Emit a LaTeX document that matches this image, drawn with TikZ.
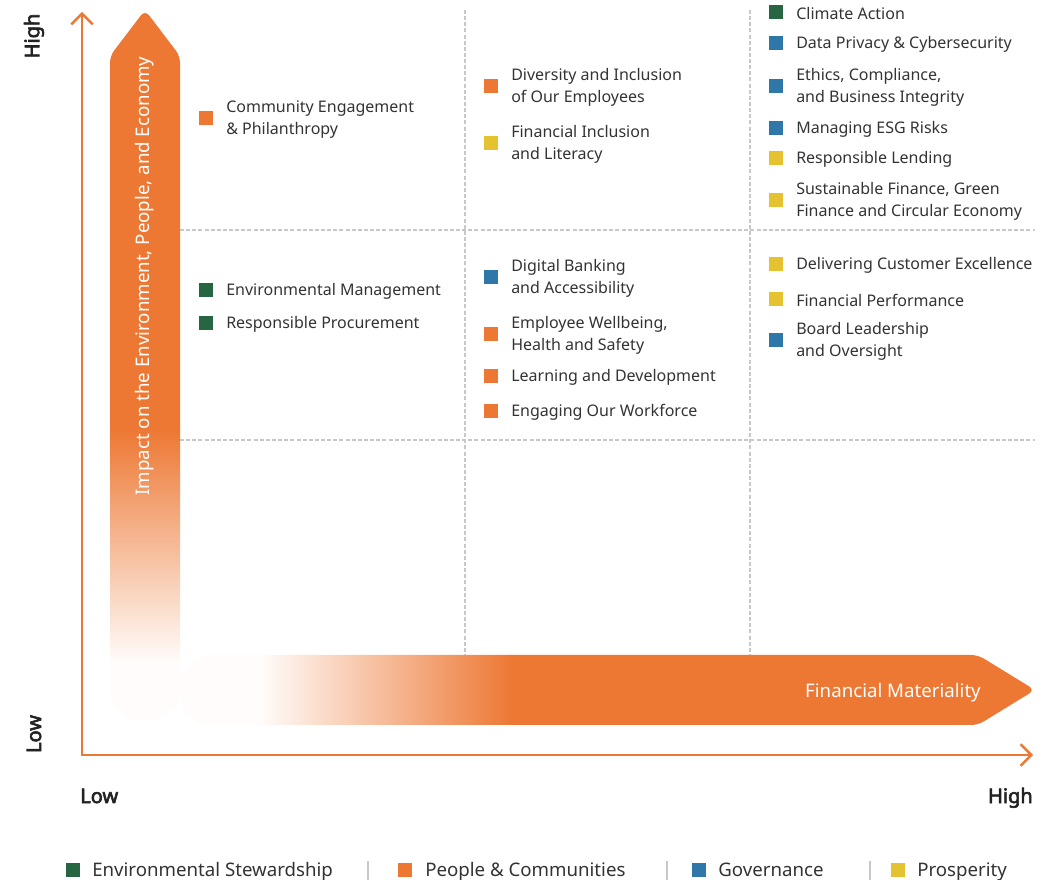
\documentclass[tikz,border=0pt]{standalone}
\usepackage{fontspec}
\setmainfont{Noto Sans}
\newfontfamily\labelfont{Noto Sans}[BoldFont={Noto Sans}, BoldFeatures={FakeBold=3}]
\usetikzlibrary{arrows.meta}

\definecolor{esgorange}{HTML}{ED7834}
\definecolor{esggreen}{HTML}{276642}
\definecolor{esgblue}{HTML}{2E77A8}
\definecolor{esgyellow}{HTML}{E5C22F}
\definecolor{bodytext}{HTML}{333333}
\definecolor{darktext}{HTML}{222222}
\definecolor{gridgray}{HTML}{C8C8C8}

% one coloured square followed by its label
\newcommand\esgitem[5]{%
  \node[sq, fill=#4] (#1-sq) at (#2,#3) {};
  \node[itemtext] (#1) at (#2+20,#3) {#5};
}

\begin{document}
\begin{tikzpicture}[x=0.75pt,y=-0.75pt,
  sq/.style={minimum size=10.5pt, inner sep=0pt, draw=none},
  itemtext/.style={anchor=west, inner sep=0pt, align=left, text=bodytext, yshift=-1pt,
    font=\fontsize{12}{16.5}\selectfont},
  legendtext/.style={anchor=base west, inner sep=0pt, text=bodytext,
    font=\fontsize{14}{16}\selectfont},
  levellabel/.style={inner sep=0pt, text=darktext,
    font=\labelfont\fontsize{15}{18}\selectfont\bfseries},
  gridline/.style={draw=gridgray, line width=0.8pt, dash pattern=on 3pt off 1.6pt},
  axisline/.style={draw=esgorange, line width=1.8pt,
    {Straight Barb[length=8pt,width=16pt]}-{Straight Barb[length=8pt,width=16pt]}},
  separator/.style={draw=gridgray, line width=0.8pt},
]
\useasboundingbox (0,0) rectangle (1058,880);
\clip (0,0) rectangle (1058,880);

% quadrant grid
\coordinate (gv1t) at (465,10);  \coordinate (gv1b) at (465,655);
\coordinate (gv2t) at (750,10);  \coordinate (gv2b) at (750,655);
\coordinate (gh1l) at (180,230); \coordinate (gh1r) at (1035,230);
\coordinate (gh2l) at (180,440); \coordinate (gh2r) at (1035,440);
\draw[gridline] (gv1t) -- (gv1b);
\draw[gridline] (gv2t) -- (gv2b);
\draw[gridline] (gh1l) -- (gh1r);
\draw[gridline] (gh2l) -- (gh2r);

% vertical band arrow (impact), fading towards the bottom
\begin{scope}
  \clip[rounded corners=5pt] (110,400) -- (110,56) -- (145,10) -- (180,56) -- (180,685)
    .. controls (180,704.3) and (164.3,720) .. (145,720)
    .. controls (125.7,720) and (110,704.3) .. (110,685) -- cycle;
  \fill[esgorange] (100,0) rectangle (190,431);
  \shade[top color=esgorange, bottom color=esgorange!2] (100,430) rectangle (190,662);
  \fill[esgorange!2] (100,661) rectangle (190,730);
\end{scope}

% horizontal band arrow (financial materiality), fading towards the left
\begin{scope}
  \clip[rounded corners=5pt] (600,655) -- (978,655) -- (1035,690) -- (978,725) -- (215,725)
    .. controls (195.7,725) and (180,709.3) .. (180,690)
    .. controls (180,670.7) and (195.7,655) .. (215,655) -- cycle;
  \fill[esgorange!2] (170,650) rectangle (261,730);
  \shade[left color=esgorange!2, right color=esgorange] (260,650) rectangle (512,730);
  \fill[esgorange] (511,650) rectangle (1040,730);
\end{scope}

\node[rotate=90, inner sep=0pt, text=white, font=\fontsize{14}{16}\selectfont]
  (impact) at (145,276) {Impact on the Environment, People, and Economy};
\node[inner sep=0pt, text=white, font=\fontsize{14}{16}\selectfont]
  (finmat) at (893,693) {Financial Materiality};

% axes
\coordinate (ytop) at (82,12);
\coordinate (origin) at (82,755);
\coordinate (xend) at (1033,755);
\draw[axisline] (ytop) -- (origin) -- (xend);

\node[levellabel, rotate=90] (yhigh) at (34,36) {High};
\node[levellabel, rotate=90] (ylow) at (34,734) {Low};
\node[levellabel, anchor=base west] (xlow) at (80,803) {Low};
\node[levellabel, anchor=base east] (xhigh) at (1033,803) {High};

% low financial materiality column
\esgitem{community}{206}{118}{esgorange}{Community Engagement\\\& Philanthropy}
\esgitem{envmgmt}{206}{290}{esggreen}{Environmental Management}
\esgitem{procure}{206}{323}{esggreen}{Responsible Procurement}

% middle column
\esgitem{diversity}{491}{86}{esgorange}{Diversity and Inclusion\\of Our Employees}
\esgitem{fininc}{491}{143}{esgyellow}{Financial Inclusion\\and Literacy}
\esgitem{digital}{491}{277}{esgblue}{Digital Banking\\and Accessibility}
\esgitem{wellbeing}{491}{334}{esgorange}{Employee Wellbeing,\\Health and Safety}
\esgitem{learning}{491}{376}{esgorange}{Learning and Development}
\esgitem{workforce}{491}{411}{esgorange}{Engaging Our Workforce}

% high financial materiality column
\esgitem{climate}{776}{12}{esggreen}{Climate Action}
\esgitem{privacy}{776}{43}{esgblue}{Data Privacy \& Cybersecurity}
\esgitem{ethics}{776}{86}{esgblue}{Ethics, Compliance,\\and Business Integrity}
\esgitem{esgrisk}{776}{128}{esgblue}{Managing ESG Risks}
\esgitem{lending}{776}{158}{esgyellow}{Responsible Lending}
\esgitem{susfin}{776}{200}{esgyellow}{Sustainable Finance, Green\\Finance and Circular Economy}
\esgitem{customer}{776}{264}{esgyellow}{Delivering Customer Excellence}
\esgitem{finperf}{776}{299}{esgyellow}{Financial Performance}
\esgitem{board}{776}{340}{esgblue}{Board Leadership\\and Oversight}

% legend
\node[sq, fill=esggreen] (lg-env-sq) at (73,870) {};
\node[legendtext] (lg-env) at (92,876) {Environmental Stewardship};
\draw[separator] (368,861) -- (368,880);
\node[sq, fill=esgorange] (lg-ppl-sq) at (405,870) {};
\node[legendtext] (lg-ppl) at (425,876) {People \& Communities};
\draw[separator] (667,861) -- (667,880);
\node[sq, fill=esgblue] (lg-gov-sq) at (699,870) {};
\node[legendtext] (lg-gov) at (718,876) {Governance};
\draw[separator] (870,861) -- (870,880);
\node[sq, fill=esgyellow] (lg-pro-sq) at (898,870) {};
\node[legendtext] (lg-pro) at (917,876) {Prosperity};
\end{tikzpicture}
\end{document}
